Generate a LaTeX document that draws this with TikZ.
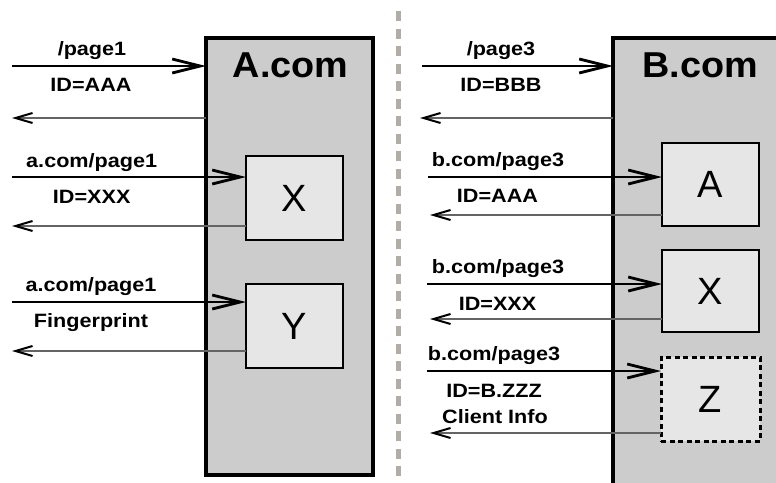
\documentclass[tikz,border=0pt]{standalone}
\usepackage{fontspec}
\setmainfont{Liberation Sans}
\newfontfamily\lblfont[FakeStretch=1.12]{Liberation Sans}
\newfontfamily\ttlfont[FakeStretch=1.05]{Liberation Sans}
\usetikzlibrary{arrows.meta}

\definecolor{bigfill}{RGB}{204,204,204}
\definecolor{smallfill}{RGB}{230,230,230}
\definecolor{divider}{RGB}{178,172,166}
\definecolor{retline}{RGB}{100,100,100}

\tikzset{
  bigbox/.style={draw=black, fill=bigfill, line width=3.2pt, inner sep=0pt, outer sep=0pt},
  smallbox/.style={draw=black, fill=smallfill, line width=2.8pt, inner sep=0pt, outer sep=0pt,
    font=\fontsize{38}{40}\selectfont},
  dashbox/.style={smallbox, line width=3pt, dash pattern=on 5pt off 3.5pt},
  title/.style={anchor=base, inner sep=0pt, font=\ttlfont\bfseries\fontsize{36}{40}\selectfont},
  lbl/.style={anchor=base, inner sep=0pt, font=\lblfont\bfseries\fontsize{19.3}{21}\selectfont},
  inarrow/.style={line width=2.8pt, black,
    -{Straight Barb[length=28pt, width=14pt, line width=2.8pt]}},
  outarrow/.style={line width=1.4pt, retline,
    -{Straight Barb[length=17pt, width=10pt, line width=2pt, color=black]}},
}

\begin{document}
\begin{tikzpicture}[x=1pt, y=-1pt]
  \useasboundingbox (0,0) rectangle (776,482);
  \clip (0,0) rectangle (776,482);

  % divider between the two sites
  \draw[divider, line width=5pt, dash pattern=on 10pt off 7.5pt] (398,11) -- (398,490);

  % ---- site A ----
  \node[bigbox, minimum width=167pt, minimum height=437pt] (A) at (289.5,256.5) {};
  \node[title] (Atitle) at (290.5,77.3) {A.com};
  \node[smallbox, minimum width=97pt, minimum height=84pt] (AX) at (294.5,198) {X};
  \node[smallbox, minimum width=97pt, minimum height=84pt] (AY) at (294.5,326) {Y};

  \coordinate (a1in) at (12,66);
  \coordinate (a1out) at (12,118);
  \coordinate (a2in) at (12,177);
  \coordinate (a2out) at (12,226);
  \coordinate (a3in) at (12,302);
  \coordinate (a3out) at (12,351);

  \draw[inarrow] (a1in) -- (a1in -| A.west);
  \draw[outarrow] (a1out -| A.west) -- (a1out);
  \draw[inarrow] (a2in) -- (a2in -| AX.west);
  \draw[outarrow] (a2out -| AX.west) -- (a2out);
  \draw[inarrow] (a3in) -- (a3in -| AY.west);
  \draw[outarrow] (a3out -| AY.west) -- (a3out);

  \node[lbl] (l1) at (92,55) {/page1};
  \node[lbl] (l2) at (91,91) {ID=AAA};
  \node[lbl] (l3) at (91.7,167) {a.com/page1};
  \node[lbl] (l4) at (91.7,203) {ID=XXX};
  \node[lbl] (l5) at (91,291.7) {a.com/page1};
  \node[lbl] (l6) at (91,327.3) {Fingerprint};

  % ---- site B ----
  \node[bigbox, minimum width=217pt, minimum height=482pt] (B) at (721.5,279) {};
  \node[title] (Btitle) at (700,77.5) {B.com};
  \node[smallbox, minimum width=97pt, minimum height=83pt] (BA) at (710.5,184.5) {A};
  \node[smallbox, minimum width=97pt, minimum height=82pt] (BX) at (710.5,291) {X};
  \node[dashbox, minimum width=99pt, minimum height=84pt] (BZ) at (710.5,399) {Z};

  \coordinate (b1in) at (422,66);
  \coordinate (b1out) at (420,118);
  \coordinate (b2in) at (428,177);
  \coordinate (b2out) at (430,215);
  \coordinate (b3in) at (427,284);
  \coordinate (b3out) at (430,319);
  \coordinate (b4in) at (427,371);
  \coordinate (b4out) at (430,433);

  \draw[inarrow] (b1in) -- (b1in -| B.west);
  \draw[outarrow] (b1out -| B.west) -- (b1out);
  \draw[inarrow] (b2in) -- (b2in -| BA.west);
  \draw[outarrow] (b2out -| BA.west) -- (b2out);
  \draw[inarrow] (b3in) -- (b3in -| BX.west);
  \draw[outarrow] (b3out -| BX.west) -- (b3out);
  \draw[inarrow] (b4in) -- (b4in -| BZ.west);
  \draw[outarrow] (b4out -| BZ.west) -- (b4out);

  \node[lbl] (r1) at (501,55) {/page3};
  \node[lbl] (r2) at (501,91.7) {ID=BBB};
  \node[lbl] (r3) at (498,166) {b.com/page3};
  \node[lbl] (r4) at (497.5,202.7) {ID=AAA};
  \node[lbl] (r5) at (498,273.3) {b.com/page3};
  \node[lbl] (r6) at (497.5,310.7) {ID=XXX};
  \node[lbl] (r7) at (494,360) {b.com/page3};
  \node[lbl] (r8) at (494,397.7) {ID=B.ZZZ};
  \node[lbl] (r9) at (495,423.3) {Client Info};
\end{tikzpicture}
\end{document}
